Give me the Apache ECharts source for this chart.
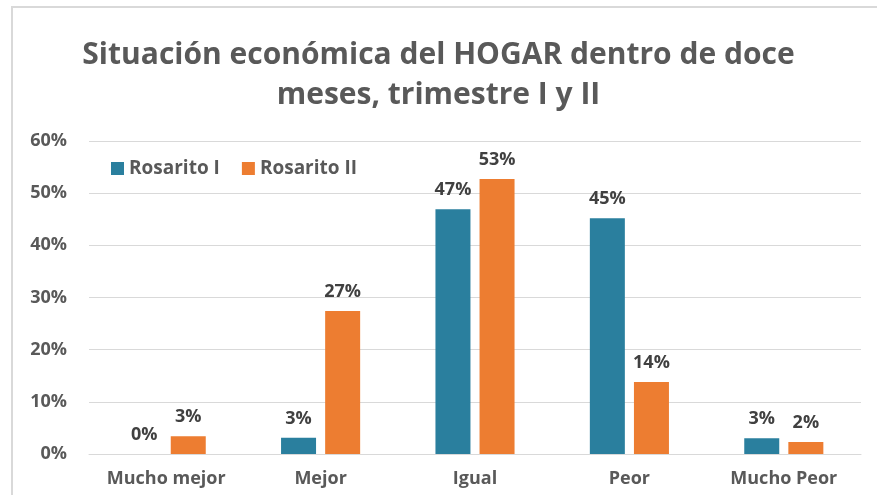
<!DOCTYPE html>
<html>
<head>
<meta charset="utf-8">
<script src="https://cdn.jsdelivr.net/npm/echarts@6/dist/echarts.min.js"></script>
<style>
  html, body { margin: 0; padding: 0; background: #fff; }
  #chart { width: 877px; height: 495px; }
</style>
</head>
<body>
<div id="chart"></div>
<script>
// datos
const categorias = ['Mucho mejor', 'Mejor', 'Igual', 'Peor', 'Mucho Peor'];
const rosarioI = [0.0, 3.1, 46.9, 45.2, 3.0];
const rosarioII = [3.4, 27.4, 52.7, 13.8, 2.3];
const ticksY = [0, 10, 20, 30, 40, 50, 60];

const fuente = '"Open Sans", Lato, sans-serif';
const gris = '#595959';

const etiqueta = {
    show: true,
    position: 'top',
    distance: 10,
    fontFamily: fuente,
    fontWeight: 'bold',
    fontSize: 18,
    color: '#404040',
    formatter: p => Math.round(p.value) + '%'
};

const myChart = echarts.init(document.getElementById('chart'));
myChart.setOption({
    animation: false,
    backgroundColor: '#fff',
    graphic: [{
        type: 'rect',
        shape: { x: 12, y: 7, width: 880, height: 500 },
        style: { fill: 'none', stroke: '#d9d9d9', lineWidth: 2 }
    }],
    title: {
        text: 'Situación económica del HOGAR dentro de doce\nmeses, trimestre I y II',
        left: 'center',
        top: 30,
        textStyle: {
            fontFamily: fuente,
            fontWeight: 'bold',
            fontSize: 30,
            lineHeight: 40,
            color: gris
        }
    },
    legend: {
        left: 106,
        top: 154,
        itemWidth: 13,
        itemHeight: 13,
        itemGap: 22,
        icon: 'rect',
        textStyle: { fontFamily: fuente, fontWeight: 'bold', fontSize: 19, color: gris }
    },
    grid: { left: 89, right: 16, top: 141, bottom: 41 },
    xAxis: {
        type: 'category',
        data: categorias,
        axisTick: { show: false },
        axisLine: { lineStyle: { color: '#d9d9d9' } },
        axisLabel: { interval: 0, fontFamily: fuente, fontWeight: 'bold', fontSize: 18, color: gris, margin: 16 }
    },
    yAxis: {
        type: 'value',
        min: ticksY[0],
        max: ticksY[ticksY.length - 1],
        interval: 10,
        axisLabel: { fontFamily: fuente, fontWeight: 'bold', fontSize: 18, color: gris, margin: 22, formatter: '{value}%' },
        splitLine: { lineStyle: { color: '#d9d9d9' } }
    },
    series: [
        {
            name: 'Rosarito I',
            type: 'bar',
            data: rosarioI,
            barWidth: 35,
            barGap: '26%',
            itemStyle: { color: '#2a7f9e' },
            label: etiqueta
        },
        {
            name: 'Rosarito II',
            type: 'bar',
            data: rosarioII,
            barWidth: 35,
            itemStyle: { color: '#ed7d31' },
            label: etiqueta
        }
    ]
});
</script>
</body>
</html>
